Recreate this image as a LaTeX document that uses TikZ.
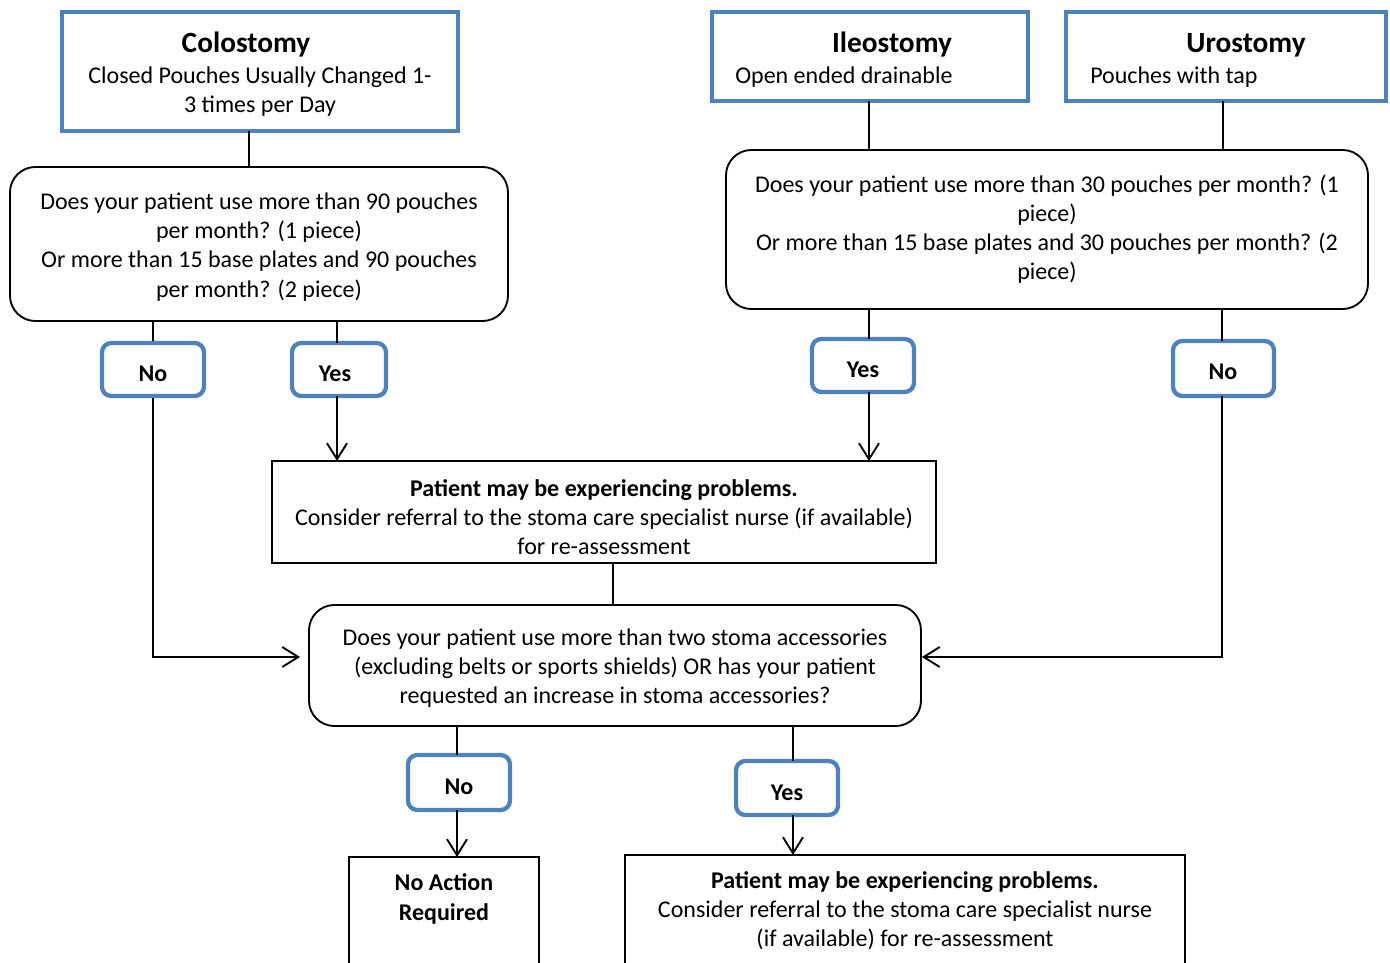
\documentclass[tikz,border=0pt]{standalone}
\usepackage{fontspec}
\setmainfont{Carlito}
\usetikzlibrary{arrows.meta,fit}
\definecolor{boxblue}{HTML}{4F81BD}
\begin{document}
\begin{tikzpicture}[x=0.75pt,y=-0.75pt,
  every node/.style={inner sep=0pt},
  bluebox/.style={draw=boxblue,line width=3.4pt,fill=white},
  lblbox/.style={draw=boxblue,line width=3.2pt,rounded corners=7pt,fill=white},
  qbox/.style={draw=black,line width=1.4pt,rounded corners=19pt},
  rbox/.style={draw=black,line width=1.4pt},
  body/.style={font=\fontsize{18}{21.9}\selectfont,align=center},
  ttl/.style={font=\fontsize{22}{26}\selectfont\bfseries},
  lbl/.style={font=\fontsize{18}{21.9}\selectfont\bfseries},
  conn/.style={draw=black,line width=1.4pt},
  arr/.style={conn,-{Straight Barb[length=12pt,width=15pt,line width=1.4pt]}}
]
\useasboundingbox (0,0) rectangle (1390,963);
% top boxes
\node[bluebox,fit={(62,12) (458,131)}] (colo) {};
\node[ttl] (coloT) at (246,45) {Colostomy};
\node[body] (coloB) at (260,92) {Closed Pouches Usually Changed 1-\\3 times per Day};
\node[bluebox,fit={(712,12) (1028,101)}] (ileo) {};
\node[ttl] (ileoT) at (892,45) {Ileostomy};
\node[body,anchor=west] (ileoB) at (735,77) {Open ended drainable};
\node[bluebox,fit={(1066,12) (1386,101)}] (uro) {};
\node[ttl] (uroT) at (1246,45) {Urostomy};
\node[body,anchor=west] (uroB) at (1090,77) {Pouches with tap};
% question boxes
\node[qbox,fit={(10,167) (508,321)}] (q1) {};
\node[body] (q1T) at (259,247) {Does your patient use more than 90 pouches\\per month? (1 piece)\\Or more than 15 base plates and 90 pouches\\per month? (2 piece)};
\node[qbox,fit={(726,150) (1368,309)}] (q2) {};
\node[body] (q2T) at (1047,229) {Does your patient use more than 30 pouches per month? (1\\piece)\\Or more than 15 base plates and 30 pouches per month? (2\\piece)};
% label boxes
\node[lblbox,fit={(102,343) (204,396)}] (no1) {};
\node[lbl] at (153,374) {No};
\node[lblbox,fit={(292,343) (386,396)}] (yes1) {};
\node[lbl] at (335,374) {Yes};
\node[lblbox,fit={(812,339) (914,392)}] (yes2) {};
\node[lbl] at (863,370) {Yes};
\node[lblbox,fit={(1173,341) (1274,396)}] (no2) {};
\node[lbl] at (1223,372) {No};
% problem box 1
\node[rbox,fit={(272,461) (936,563)}] (p1) {};
\begin{scope}
\clip (274,463) rectangle (934,556);
\node[body] (p1T) at (604,517) {\textbf{Patient may be experiencing problems.}\\Consider referral to the stoma care specialist nurse (if available)\\for re-assessment};
\end{scope}
% question 3
\node[qbox,fit={(309,605) (921,726)}] (q3) {};
\node[body] (q3T) at (615,668) {Does your patient use more than two stoma accessories\\(excluding belts or sports shields) OR has your patient\\requested an increase in stoma accessories?};
\node[lblbox,fit={(408,755) (510,810)}] (no3) {};
\node[lbl] at (459,787) {No};
\node[lblbox,fit={(736,761) (838,815)}] (yes3) {};
\node[lbl] at (787,793) {Yes};
% bottom boxes
\node[rbox,fit={(349,857) (539,975)}] (noact) {};
\node[body] (noactT) at (444,899) {\textbf{No Action}\\\textbf{Required}};
\node[rbox,fit={(625,855) (1185,975)}] (p2) {};
\node[body] (p2T) at (905,911) {\textbf{Patient may be experiencing problems.}\\Consider referral to the stoma care specialist nurse\\(if available) for re-assessment};
% connectors
\draw[conn] (249,131) -- (249,167);
\draw[conn] (869,101) -- (869,150);
\draw[conn] (1223,101) -- (1223,150);
\draw[conn] (153,321) -- (no1.north);
\draw[conn] (337,321) -- (337,343);
\draw[conn] (869,309) -- (869,339);
\draw[conn] (1222,309) -- (1222,341);
\draw[arr] (337,396) -- (337,461);
\draw[arr] (869,392) -- (869,461);
\draw[conn] (613,563) -- (613,605);
\coordinate (a1) at (300,657);
\draw[arr] (no1.south) -- (153,657) -- (a1);
\draw[arr] (1222,396) -- (1222,657) -- (q3.east |- 0,657);
\draw[conn] (457,726) -- (457,755);
\draw[arr] (457,810) -- (457,857);
\draw[conn] (793,726) -- (793,761);
\draw[arr] (793,815) -- (793,855);
\end{tikzpicture}
\end{document}
